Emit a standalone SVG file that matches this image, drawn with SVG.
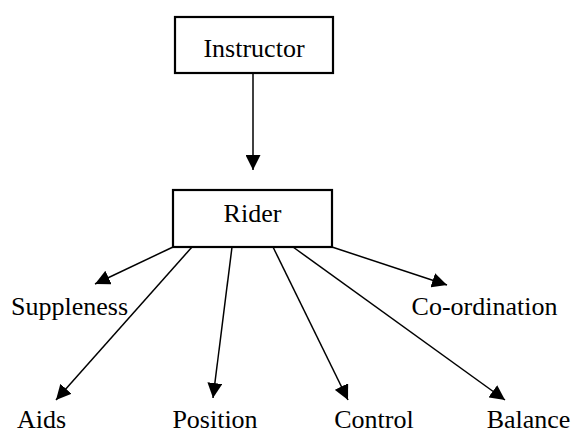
<svg xmlns="http://www.w3.org/2000/svg" width="574" height="435" viewBox="0 0 574 435">
<style>
.box{fill:#fff;stroke:#000;stroke-width:2.2}
.lbl{font-family:"Liberation Serif","Times New Roman",serif;font-size:26px;fill:#000;text-anchor:middle}
.edge{stroke:#000;stroke-width:1.5;fill:none;marker-end:url(#ah)}
</style>
<defs>
<marker id="ah" markerUnits="userSpaceOnUse" markerWidth="15" markerHeight="15" viewBox="0 0 15 15" refX="15" refY="7.5" orient="auto">
<path d="M0,0 L15,7.5 L0,15 z" fill="#000"/>
</marker>
</defs>
<g id="connectors">
<line class="edge" x1="253" y1="73" x2="253" y2="170"/>
<line class="edge" x1="173" y1="247" x2="95" y2="284"/>
<line class="edge" x1="192" y1="247" x2="56" y2="400"/>
<line class="edge" x1="232" y1="247" x2="213" y2="398"/>
<line class="edge" x1="273" y1="247" x2="348" y2="400"/>
<line class="edge" x1="293" y1="247" x2="505" y2="400"/>
<line class="edge" x1="332" y1="247" x2="447" y2="285"/>
</g>
<g id="instructor">
<rect class="box" x="175" y="17" width="158" height="56"/>
<text class="lbl" x="254" y="57">Instructor</text>
</g>
<g id="rider">
<rect class="box" x="173" y="190" width="159" height="57"/>
<text class="lbl" x="252.5" y="222">Rider</text>
</g>
<g id="suppleness"><text class="lbl" x="69.5" y="315">Suppleness</text></g>
<g id="coordination"><text class="lbl" x="484.5" y="315">Co-ordination</text></g>
<g id="aids"><text class="lbl" x="41.5" y="428">Aids</text></g>
<g id="position"><text class="lbl" x="215" y="428">Position</text></g>
<g id="control"><text class="lbl" x="374" y="428">Control</text></g>
<g id="balance"><text class="lbl" x="528.5" y="428">Balance</text></g>
</svg>
